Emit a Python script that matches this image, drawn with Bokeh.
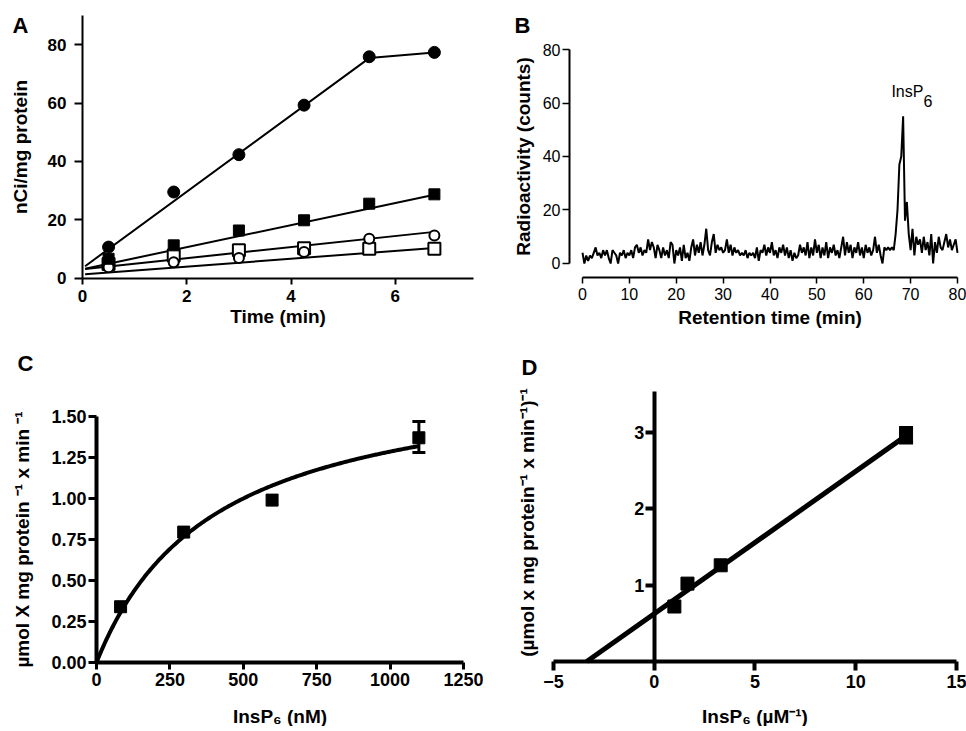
import numpy as np
from bokeh.plotting import figure
from bokeh.layouts import column, row
from bokeh.models import (Range1d, FixedTicker, Label, Whisker, TeeHead, LinearAxis,
                          ColumnDataSource, NumeralTickFormatter)
from bokeh.core.properties import value
from bokeh.embed import file_html
from bokeh.resources import INLINE

FONT = "Liberation Sans"

# ---------------- Panel A data ----------------
time_min = [0.5, 1.75, 3.0, 4.25, 5.5, 6.75]
a_filled_circle = [10.6, 29.5, 42.3, 59.3, 75.9, 77.4]
a_filled_square = [6.6, 11.2, 16.3, 19.8, 25.5, 28.7]
a_open_circle = [3.7, 5.4, 6.9, 8.9, 13.5, 14.6]
a_open_square = [4.8, 7.7, 9.5, 10.2, 10.0, 10.0]
# linear fits: (intercept, slope)
a_fit_filled_circle = (3.4, 13.1)
a_fit_filled_square = (3.0, 3.79)
a_fit_open_circle = (3.0, 1.9)
a_fit_open_square = (1.2, 1.35)
a_fit_x = [0.05, 6.75]
a_xticks = [0, 2, 4, 6]
a_yticks = [0, 20, 40, 60, 80]

# ---------------- Panel B data ----------------
counts = [
    4, 0, 3, 1, 3, 2, 4, 6, 3, 4, 2, 5, 3, 5, 2, 0, 5, 4, 3, 0, 4, 3, 5, 2, 4,
    3, 5, 2, 6, 7, 4, 6, 3, 5, 4, 9, 5, 8, 6, 2, 7, 5, 2, 6, 3, 5, 2, 8, 7, 0,
    5, 3, 6, 1, 7, 2, 4, 1, 6, 9, 3, 7, 4, 8, 3, 7, 13, 5, 3, 8, 11, 4, 7, 5, 6,
    4, 5, 9, 4, 7, 3, 6, 4, 5, 3, 4, 3, 5, 2, 4, 3, 4, 2, 6, 1, 5, 4, 7, 3, 6,
    4, 8, 3, 5, 2, 6, 4, 7, 3, 6, 2, 5, 1, 4, 2, 3, 7, 4, 6, 3, 8, 2, 6, 3, 9,
    4, 7, 2, 6, 3, 8, 2, 6, 4, 7, 3, 5, 2, 6, 10, 3, 8, 4, 7, 2, 6, 4, 8, 3, 6,
    2, 7, 4, 6, 3, 5, 10, 4, 7, 3, 0, 6, 5, 6, 5, 6, 5, 11, 20, 37, 40, 55, 16, 23, 11,
    5, 13, 3, 10, 7, 9, 4, 10, 5, 8, 3, 11, 0, 8, 4, 10, 6, 5, 8, 11, 6, 9, 5, 7, 9,
    4,
]
b_step = 0.4  # sampling interval of the trace (min)
ret_time = [round(i * b_step, 1) for i in range(len(counts))]
b_xticks = [0, 10, 20, 30, 40, 50, 60, 70, 80]
b_yticks = [0, 20, 40, 60, 80]

# ---------------- Panel C data ----------------
c_conc = [82, 297, 598, 1098]
c_rate = [0.34, 0.795, 0.99, 1.37]
c_err_x = [1098]
c_err_lo = [1.28]
c_err_hi = [1.47]
c_vmax = 1.80
c_km = 400.0
c_xticks = [0, 250, 500, 750, 1000, 1250]
c_yticks = [0.0, 0.25, 0.5, 0.75, 1.0, 1.25, 1.5]

# ---------------- Panel D data ----------------
d_inv_conc = [1.0, 1.65, 3.3, 12.5]
d_inv_rate = [0.72, 1.02, 1.26, 2.96]
d_err_x = [12.5]
d_err_lo = [2.87]
d_err_hi = [3.06]
d_fit_intercept = 0.625
d_fit_slope = 0.1866
d_fit_x = [-3.35, 12.7]
d_xticks = [-5, 0, 5, 10, 15]
d_yticks = [1, 2, 3]


def base_fig(w, h, xr, yr):
    p = figure(width=w, height=h, x_range=Range1d(*xr), y_range=Range1d(*yr),
               output_backend="svg", toolbar_location=None, title=None,
               min_border_left=0, min_border_right=0,
               min_border_top=0, min_border_bottom=0)
    p.outline_line_color = None
    p.xgrid.visible = False
    p.ygrid.visible = False
    p.background_fill_color = "white"
    p.border_fill_color = "white"
    return p


def style_axis(ax, lw, tick_out, tick_w, label_size, label_bold, standoff,
               title_size, title_standoff):
    ax.axis_line_width = lw
    ax.axis_line_color = "black"
    ax.major_tick_line_width = tick_w
    ax.major_tick_line_color = "black"
    ax.major_tick_out = tick_out
    ax.major_tick_in = 0
    ax.minor_tick_line_color = None
    ax.major_label_text_font = FONT
    ax.major_label_text_font_size = f"{label_size}px"
    ax.major_label_text_font_style = "bold" if label_bold else "normal"
    ax.major_label_text_color = "black"
    ax.major_label_standoff = standoff
    ax.axis_label_text_font = FONT
    ax.axis_label_text_font_size = f"{title_size}px"
    ax.axis_label_text_font_style = "bold"
    ax.axis_label_text_color = "black"
    ax.axis_label_standoff = title_standoff


def letter(p, x, y, t):
    p.add_layout(Label(x=x, y=y, text=t, text_font=FONT, text_font_style="bold",
                       text_font_size="22px", text_align="center",
                       text_baseline="middle", text_color="black"))


# ================= Panel A =================
pA = base_fig(483, 330, (-1.573, 7.692), (-18.01, 95.2))
xa, ya = pA.xaxis[0], pA.yaxis[0]
xa.ticker = FixedTicker(ticks=a_xticks)
ya.ticker = FixedTicker(ticks=a_yticks)
xa.fixed_location = 0
ya.fixed_location = 0
xa.bounds = (0, 7.5)
ya.bounds = (0, 90)
xa.axis_label = "Time (min)"
ya.axis_label = "nCi/mg protein"
style_axis(xa, 2, 6, 2, 17, True, 6, 19, 0)
style_axis(ya, 2, 8, 2, 17, True, 8, 19, 14)


def fit_y(fit, xs):
    return [fit[0] + fit[1] * x for x in xs]


fc_x = [a_fit_x[0], time_min[4], time_min[5]]
fc_y = fit_y(a_fit_filled_circle, fc_x[:2]) + [a_filled_circle[5]]
pA.line(fc_x, fc_y, line_width=2, color="black")
for fit in (a_fit_filled_square, a_fit_open_circle, a_fit_open_square):
    pA.line(a_fit_x, fit_y(fit, a_fit_x), line_width=2, color="black")

pA.scatter(time_min, a_open_square, marker="square", size=12, line_width=2,
           line_color="black", fill_color="white")
pA.scatter(time_min, a_open_circle, marker="circle", size=10, line_width=2,
           line_color="black", fill_color="white")
pA.scatter(time_min, a_filled_square, marker="square", size=11,
           line_color="black", fill_color="black")
pA.scatter(time_min, a_filled_circle, marker="circle", size=12,
           line_color="black", fill_color="black")
letter(pA, -1.19, 86.6, "A")

# ================= Panel B =================
pB = base_fig(483, 330, (-21.12, 81.92), (-25.05, 98.32))
xb, yb = pB.xaxis[0], pB.yaxis[0]
xb.ticker = FixedTicker(ticks=b_xticks)
yb.ticker = FixedTicker(ticks=b_yticks)
xb.fixed_location = -5.23
yb.fixed_location = -2.77
xb.bounds = (0, 80)
yb.bounds = (0, 80)
xb.axis_label = "Retention time (min)"
yb.axis_label = "Radioactivity (counts)"
style_axis(xb, 2, 6, 1.5, 16, False, 5, 19, 3)
style_axis(yb, 2, 7, 1.5, 16, False, 2, 19, 6)
pB.line(ret_time, counts, line_width=2, color="black")
pB.add_layout(Label(x=65.9, y=64.3, text="InsP", text_font=FONT,
                    text_font_size="16px", text_align="left",
                    text_baseline="middle", text_color="black"))
pB.add_layout(Label(x=72.75, y=60.6, text="6", text_font=FONT,
                    text_font_size="16px", text_align="left",
                    text_baseline="middle", text_color="black"))
letter(pB, -12.8, 88.97, "B")

# ================= Panel C =================
pC = base_fig(483, 396, (-327.0, 1318.1), (-0.390, 2.024))
xc, yc = pC.xaxis[0], pC.yaxis[0]
xc.ticker = FixedTicker(ticks=c_xticks)
yc.ticker = FixedTicker(ticks=c_yticks)
yc.formatter = NumeralTickFormatter(format="0.00")
xc.fixed_location = 0
yc.fixed_location = 0
xc.bounds = (0, 1250)
yc.bounds = (0, 1.5)
xc.axis_label = "InsP\u2086 (nM)"
yc.axis_label = "\u00b5mol X mg protein \u207b\u00b9 x min \u207b\u00b9"
style_axis(xc, 4, 7, 3, 18, True, 3, 19, 17)
style_axis(yc, 4, 8, 3, 18, True, 2, 19, 15)

c_curve_x = np.linspace(0, c_conc[-1], 200)
c_curve_y = c_vmax * c_curve_x / (c_km + c_curve_x)
pC.line(c_curve_x, c_curve_y, line_width=4, color="black")
pC.add_layout(Whisker(base="x", lower="lo", upper="hi",
                      source=ColumnDataSource(dict(x=c_err_x, lo=c_err_lo, hi=c_err_hi)),
                      line_width=3, line_color="black",
                      upper_head=TeeHead(size=13, line_width=3, line_color="black"),
                      lower_head=TeeHead(size=13, line_width=3, line_color="black")))
pC.scatter(c_conc, c_rate, marker="square", size=12, line_color="black",
           fill_color="black")
letter(pC, -241.8, 1.823, "C")

# ================= Panel D =================
pD = base_fig(483, 396, (-8.474, 15.50), (-0.852, 4.336))
xd, yd = pD.xaxis[0], pD.yaxis[0]
xd.ticker = FixedTicker(ticks=d_xticks)
yd.ticker = FixedTicker(ticks=d_yticks)
xd.fixed_location = 0
yd.fixed_location = 0
xd.bounds = (-5, 15)
yd.bounds = (0, 3.54)
xd.axis_label = "InsP\u2086 (\u00b5M\u207b\u00b9)"
style_axis(xd, 4, 9, 4, 18, True, 5, 19, 14)
style_axis(yd, 4, 9, 4, 18, True, 1, 19, 0)

# axis carrying only the y title, at the left end of the x axis
yd_title = LinearAxis(fixed_location=-5, ticker=FixedTicker(ticks=[]),
                      bounds=(0, 3.64), axis_line_color=None,
                      axis_label="(\u00b5mol x mg protein\u207b\u00b9 x min\u207b\u00b9)\u207b\u00b9")
style_axis(yd_title, 0, 0, 0, 18, True, 0, 19, 16)
yd_title.axis_line_color = None
pD.add_layout(yd_title, "left")

d_line_y = [d_fit_intercept + d_fit_slope * x for x in d_fit_x]
pD.line(d_fit_x, d_line_y, line_width=5, color="black")
pD.add_layout(Whisker(base="x", lower="lo", upper="hi",
                      source=ColumnDataSource(dict(x=d_err_x, lo=d_err_lo, hi=d_err_hi)),
                      line_width=3, line_color="black",
                      upper_head=TeeHead(size=14, line_width=4, line_color="black"),
                      lower_head=TeeHead(size=14, line_width=4, line_color="black")))
pD.scatter(d_inv_conc, d_inv_rate, marker="square", size=13, line_color="black",
           fill_color="black")
letter(pD, -6.19, 3.85, "D")

layout = column(row(pA, pB), row(pC, pD))
open("out.html", "w").write(file_html(layout, INLINE))
